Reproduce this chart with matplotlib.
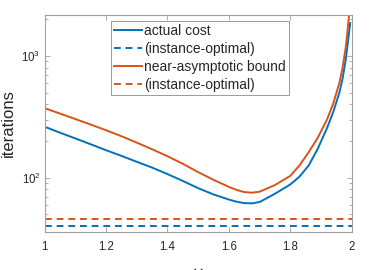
import matplotlib
matplotlib.use("Agg")
import matplotlib.pyplot as plt
from matplotlib.ticker import LogLocator, FixedLocator

plt.rcParams['font.family'] = ['Liberation Sans', 'DejaVu Sans']
plt.rcParams['mathtext.default'] = 'regular'

omega = [1.0, 1.05, 1.1, 1.15, 1.2, 1.25, 1.3, 1.35, 1.4, 1.45, 1.5, 1.55, 1.6,
         1.625, 1.65, 1.675, 1.7, 1.75, 1.8, 1.83, 1.86, 1.89, 1.92, 1.94, 1.96,
         1.97, 1.98, 1.985, 1.99, 1.995]
actual_cost = [262, 234, 210, 188, 168, 151, 135, 121, 107, 94, 82, 72.8, 66.1,
               63.5, 61.8, 61.5, 63.1, 73.8, 88, 102, 126, 174, 257, 347, 501,
               646, 912, 1148, 1445, 1862]
near_asym = [372, 336, 303, 273, 245, 219, 194, 171, 150, 130, 111, 96, 84,
             79.3, 76.2, 75.3, 76.7, 87, 103.5, 126, 162, 214, 302, 407, 603,
             794, 1148, 1479, 1995, 2690]
actual_opt = 40.3
near_opt = 45.8

xticks = [1, 1.2, 1.4, 1.6, 1.8, 2]
xticklabels = ['1', '1.2', '1.4', '1.6', '1.8', '2']

blue = '#0072BD'
orange = '#D95319'
grey = '#a0a0a0'
txt = '#262626'

fig = plt.figure(figsize=(3.83, 2.70), dpi=100)
ax = fig.add_axes([44.7/383, 1-231.7/270, (351.7-44.7)/383, (231.7-14.7)/270])

lw = 1.4
ax.plot(omega, actual_cost, color=blue, lw=lw, label='actual cost')
ax.plot([omega[0], 2], [actual_opt, actual_opt], color=blue, lw=lw, ls=(0, (3.5, 2.5)),
        label='(instance-optimal)')
ax.plot(omega, near_asym, color=orange, lw=lw, label='near-asymptotic bound')
ax.plot([omega[0], 2], [near_opt, near_opt], color=orange, lw=lw, ls=(0, (3.5, 2.5)),
        label='(instance-optimal)')

ax.set_yscale('log')
ax.set_xlim(1, 2)
ax.set_ylim(36, 2180)
ax.xaxis.set_major_locator(FixedLocator(xticks))
ax.set_xticklabels(xticklabels)
ax.yaxis.set_major_locator(LogLocator(base=10))
ax.yaxis.set_minor_locator(LogLocator(base=10, subs=range(2, 10)))

for s in ax.spines.values():
    s.set_color(grey)
    s.set_linewidth(0.8)
ax.tick_params(which='both', direction='in', top=True, right=True, color=grey,
               labelcolor=txt, labelsize=8.3, width=0.6)
ax.tick_params(which='major', length=3.5)
ax.tick_params(which='minor', length=2)
ax.tick_params(axis='x', pad=7)
ax.tick_params(axis='y', pad=3)

ax.set_ylabel('iterations', fontsize=12, color=txt, labelpad=4)
ax.set_xlabel('ω', fontsize=12, color=txt, labelpad=9)

leg = ax.legend(loc='upper left', bbox_to_anchor=(111/383, 1-20.7/270),
                bbox_transform=fig.transFigure, borderaxespad=0, fontsize=10,
                fancybox=False, framealpha=1, edgecolor='#8a8a8a',
                handlelength=2.0, handletextpad=0.15, labelspacing=0.28,
                borderpad=0.25)
leg.get_frame().set_linewidth(0.6)
for t in leg.get_texts():
    t.set_color(txt)

fig.savefig('out.png', dpi=100)
